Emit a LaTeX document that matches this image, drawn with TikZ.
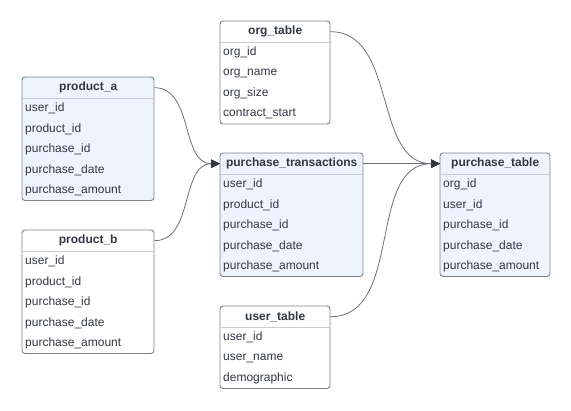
\documentclass[tikz,border=0pt]{standalone}
\usepackage{fontspec}
\setmainfont{Liberation Sans}
\usepackage{tikz}
\usetikzlibrary{arrows.meta, positioning}
\definecolor{boxline}{RGB}{125,130,140}
\definecolor{ruleline}{RGB}{200,205,212}
\definecolor{textgray}{RGB}{51,56,64}
\definecolor{linkgray}{RGB}{110,112,118}
\definecolor{tableblue}{RGB}{238,244,253}
\tikzstyle{tablebox} = [draw=boxline, line width=0.9pt, rounded corners=3pt]
\tikzstyle{tabletitle} = [inner sep=0pt, minimum height=21pt, text=textgray, font=\fontsize{12}{14}\selectfont\bfseries]
\tikzstyle{tablefield} = [anchor=west, inner xsep=3pt, inner ysep=0pt, text=textgray, font=\fontsize{12}{14}\selectfont]
\tikzstyle{tablerule} = [draw=ruleline, line width=0.9pt]
\tikzstyle{relation} = [draw=linkgray, line width=0.8pt, -{Triangle[length=9pt,width=8.5pt,color=textgray]}, out=0, in=180]
% name, left, top, width, fill, title, fields
\newcommand{\dbtable}[7]{%
	\foreach \f [count=\i] in {#7} {\xdef\rowcount{\i}}
	\draw[tablebox, fill=#5] (#2,#3) rectangle ++(#4,{21+\rowcount*20.5});
	\node[tabletitle, minimum width=#4, anchor=north west] (#1) at (#2,#3) {#6};
	\draw[tablerule] (#1.south west) -- (#1.south east);
	\foreach \f [count=\i] in {#7}
		\node[tablefield] (#1-\i) at ([yshift={-(\i-0.5)*20.5}] #1.south west) {\f};
}

\begin{document}
\begin{tikzpicture}[x=1pt, y=-1pt]
	\useasboundingbox (0,0) rectangle (571,411);
	\dbtable{producta}{22}{77}{132}{tableblue}{product\_a}{user\_id, product\_id, purchase\_id, purchase\_date, purchase\_amount}
	\dbtable{productb}{22}{230}{132}{white}{product\_b}{user\_id, product\_id, purchase\_id, purchase\_date, purchase\_amount}
	\dbtable{orgtable}{220}{21}{110}{white}{org\_table}{org\_id, org\_name, org\_size, contract\_start}
	\dbtable{transactions}{220}{153}{143}{tableblue}{purchase\_transactions}{user\_id, product\_id, purchase\_id, purchase\_date, purchase\_amount}
	\dbtable{usertable}{220}{306}{110}{white}{user\_table}{user\_id, user\_name, demographic}
	\dbtable{purchasetable}{440}{153}{110}{tableblue}{purchase\_table}{org\_id, user\_id, purchase\_id, purchase\_date, purchase\_amount}

	\draw[relation] (producta.east) to (transactions.west);
	\draw[relation] (productb.east) to (transactions.west);
	\draw[relation] (orgtable.east) to (purchasetable.west);
	\draw[relation] (transactions.east) to (purchasetable.west);
	\draw[relation] (usertable.east) to (purchasetable.west);
\end{tikzpicture}
\end{document}
